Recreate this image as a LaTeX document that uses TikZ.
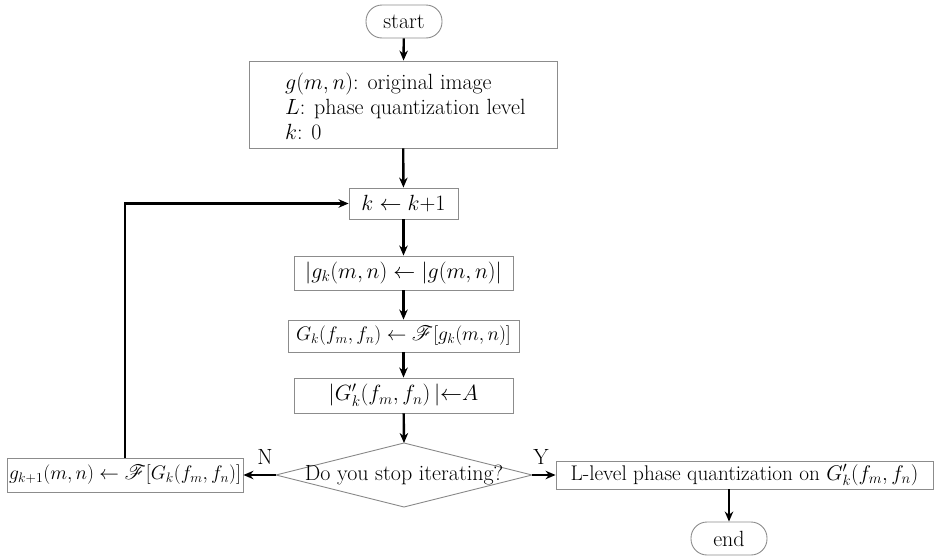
\RequirePackage{fix-cm}
\documentclass[tikz,border=0pt]{standalone}
\usepackage{amsmath}
\usepackage{mathrsfs}
\usetikzlibrary{arrows.meta}
\begin{document}
\begin{tikzpicture}[x=1pt,y=-1pt,
  txt/.style={font=\fontsize{22}{25}\selectfont},
  small/.style={font=\fontsize{19.6}{25}\selectfont},
  box/.style={draw=black!45, line width=0.9pt, inner sep=0pt, txt},
  term/.style={box, rounded corners=16pt},
  arr/.style={-{Stealth[length=10pt,width=8.5pt]}, line width=2.4pt},
  lbl/.style={txt, inner sep=0pt}]
\useasboundingbox (0,0) rectangle (946,557);
\node[term, minimum width=76pt, minimum height=33pt] (start) at (404,21.5) {start};
\node[box, minimum width=308pt, minimum height=87pt] (b1) at (403,104.5) {};
\node[lbl, anchor=west, align=left] (b1t) at (285,106) {$g(m,n)$: original image\\ $L$: phase quantization level\\ $k$: 0};
\node[box, minimum width=109pt, minimum height=31pt] (kb) at (403.5,203.5) {$k \leftarrow k{+}1$};
\node[box, minimum width=219pt, minimum height=34pt] (gb) at (403.5,273) {$|g_k(m,n) \leftarrow |g(m,n)|$};
\node[box, small, minimum width=231pt, minimum height=32pt] (Gb) at (403.5,336) {$G_k(f_m, f_n) \leftarrow \mathscr{F}[g_k(m,n)]$};
\node[box, minimum width=219pt, minimum height=35pt] (Ab) at (403.5,395.5) {$|G'_k(f_m, f_n)\,| {\leftarrow} A$};
\coordinate (dc) at (404,475);
\coordinate (dt) at (404,443);
\coordinate (db) at (404,507);
\coordinate (dl) at (276,475);
\coordinate (dr) at (532,475);
\draw[draw=black!45, line width=0.9pt] (dt) -- (dr) -- (db) -- (dl) -- cycle;
\node[lbl] (dtext) at (dc) {Do you stop iterating?};
\node[box, small, minimum width=236pt, minimum height=34pt] (lb) at (125,475) {$g_{k+1}(m,n) \leftarrow \mathscr{F}[G_k(f_m, f_n)]$};
\node[box, minimum width=377pt, minimum height=28pt, font=\fontsize{21.2}{25}\selectfont] (rb) at (744.5,475) {L-level phase quantization on $G'_k(f_m, f_n)$};
\node[term, minimum width=76pt, minimum height=33pt] (end) at (729,538.5) {end};
\node[lbl] (N) at (265,457) {N};
\node[lbl] (Y) at (541,457) {Y};
\draw[arr] (start) -- (b1);
\draw[arr] (b1) -- (kb);
\draw[arr] (kb) -- (gb);
\draw[arr] (gb) -- (Gb);
\draw[arr] (Gb) -- (Ab);
\draw[arr] (Ab) -- (dt);
\draw[arr] (dl) -- (lb);
\draw[arr] (dr) -- (rb);
\draw[arr] (rb.south -| end) -- (end);
\draw[arr] (lb.north) |- (kb.west);
\end{tikzpicture}
\end{document}
